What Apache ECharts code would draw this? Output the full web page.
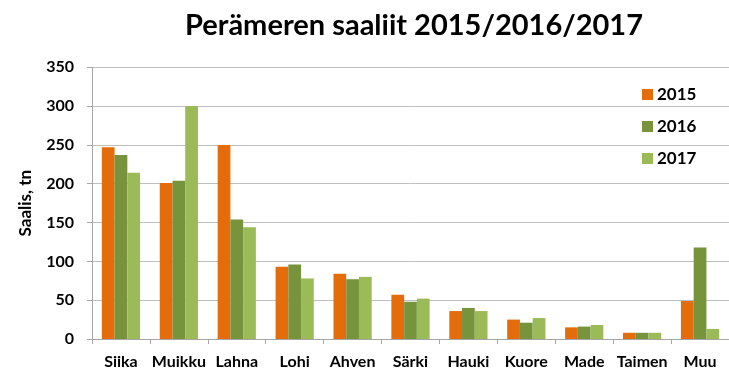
<!DOCTYPE html>
<html>
<head>
<meta charset="utf-8">
<script src="https://cdn.jsdelivr.net/npm/echarts@6/dist/echarts.min.js"></script>
<style>
  html, body { margin: 0; padding: 0; background: #ffffff; }
  #chart { width: 729px; height: 370px; }
</style>
</head>
<body>
<div id="chart"></div>
<script>
// Perämeri catches per species (tonnes), 2015–2017
const categories = ['Siika', 'Muikku', 'Lahna', 'Lohi', 'Ahven', 'Särki', 'Hauki', 'Kuore', 'Made', 'Taimen', 'Muu'];
const years = ['2015', '2016', '2017'];
const catch2015 = [247, 201, 250, 93, 84, 57, 36, 25, 15, 8, 49];
const catch2016 = [237, 204, 154, 96, 77, 48, 40, 21, 16, 8, 118];
const catch2017 = [214, 300, 144, 78, 80, 52, 36, 27, 18, 8, 13];
const yTicks = [0, 50, 100, 150, 200, 250, 300, 350];

const colors = ['#E46C0A', '#77933C', '#9BBB59'];
const FONT = 'Lato';

const chart = echarts.init(document.getElementById('chart'), null, { renderer: 'canvas' });

const seriesData = [catch2015, catch2016, catch2017];

chart.setOption({
  animation: false,
  backgroundColor: '#ffffff',
  title: {
    text: 'Perämeren saaliit 2015/2016/2017',
    left: 409,
    textAlign: 'center',
    top: 6,
    textStyle: { fontFamily: FONT, fontWeight: 'bold', fontSize: 29, color: '#000000' }
  },
  legend: {
    orient: 'vertical',
    left: 637,
    top: 81,
    itemWidth: 11,
    itemHeight: 11,
    itemGap: 15,
    itemStyle: { borderWidth: 0 },
    icon: 'rect',
    textStyle: { fontFamily: FONT, fontWeight: 'bold', fontSize: 17, color: '#000000', padding: [0, 0, 0, -1] },
    data: years
  },
  grid: { left: 92, right: -13, top: 67.3, bottom: 30.7, containLabel: false },
  xAxis: {
    type: 'category',
    data: categories,
    axisLine: { lineStyle: { color: '#A6A6A6', width: 1 } },
    axisTick: { show: true, length: 5, lineStyle: { color: '#A6A6A6' } },
    axisLabel: { fontFamily: FONT, fontWeight: 'bold', fontSize: 16, color: '#000000', margin: 15, interval: 0 }
  },
  yAxis: {
    type: 'value',
    min: yTicks[0],
    max: yTicks[yTicks.length - 1],
    interval: 50,
    name: 'Saalis, tn',
    nameLocation: 'middle',
    nameGap: 58,
    nameRotate: 90,
    nameTextStyle: { fontFamily: FONT, fontWeight: 'bold', fontSize: 17, color: '#000000' },
    axisLine: { show: true, lineStyle: { color: '#A6A6A6', width: 1 } },
    axisTick: { show: true, length: 5, lineStyle: { color: '#A6A6A6' } },
    axisLabel: { fontFamily: FONT, fontWeight: 'bold', fontSize: 16, color: '#000000', margin: 18 },
    splitLine: { show: true, lineStyle: { color: '#BFBFBF', width: 1 } }
  },
  series: years.map((y, i) => ({
    name: y,
    type: 'bar',
    data: seriesData[i],
    itemStyle: { color: colors[i] },
    barGap: '0%',
    barCategoryGap: '34%'
  }))
});
</script>
</body>
</html>
